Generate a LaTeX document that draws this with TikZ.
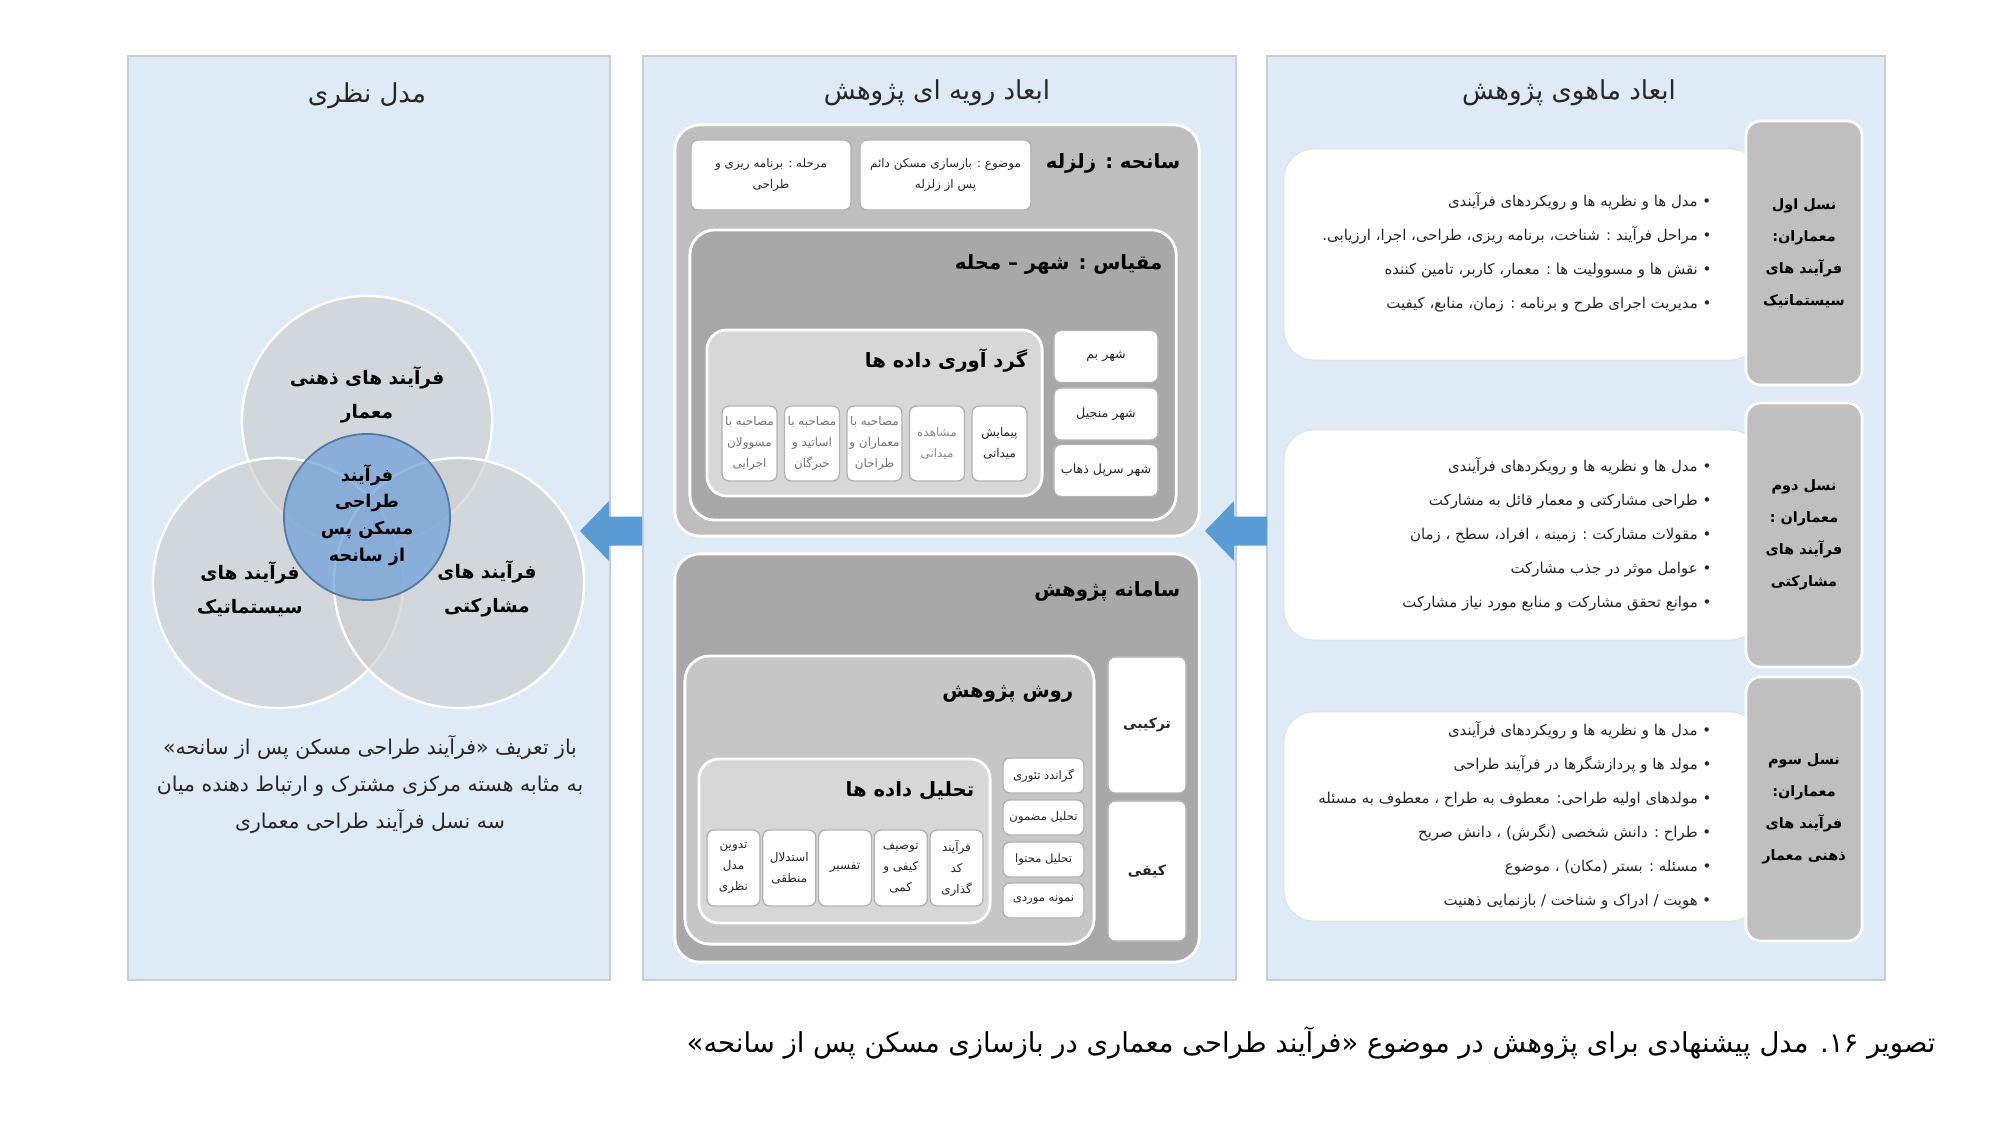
\documentclass[tikz,border=0pt]{standalone}
\usepackage{fontspec}
\usepackage{xcolor}
\usepackage{tikz}
\usetikzlibrary{shapes,arrows.meta,positioning,calc}
\newfontfamily\fafont[Script=Arabic]{DejaVu Sans}
\TeXXeTstate=1
\newcommand{\fa}[1]{\beginR #1\endR}

\definecolor{panelbg}{RGB}{222,235,247}
\definecolor{panelline}{RGB}{200,206,214}
\definecolor{arrowblue}{RGB}{91,155,213}
\definecolor{trayLight}{RGB}{190,190,190}
\definecolor{trayDark}{RGB}{168,168,168}
\definecolor{trayMid}{RGB}{198,198,198}
\definecolor{trayPale}{RGB}{215,215,215}
\definecolor{genGray}{RGB}{191,191,191}
\definecolor{vennGray}{RGB}{205,205,205}
\definecolor{vennBlue}{RGB}{110,160,218}
\definecolor{inkGray}{RGB}{38,38,38}

\begin{document}
\begin{tikzpicture}[x=0.01cm, y=-0.01cm,
    panel/.style={rectangle, fill=panelbg, draw=panelline, line width=0.5pt, inner sep=0pt},
    tray/.style={rectangle, rounded corners=0.25cm, draw=white, line width=0.8pt, inner sep=0pt},
    card/.style={rectangle, rounded corners=0.07cm, fill=white, draw=gray!60, line width=0.4pt,
        inner sep=0.5pt, align=center, text=inkGray, font=\fafont\fontsize{3.4}{6}\selectfont},
    sheet/.style={rectangle, rounded corners=0.3cm, fill=white, draw=panelline!60, line width=0.3pt, inner sep=0pt},
    gen/.style={rectangle, rounded corners=0.15cm, fill=genGray, draw=white, line width=0.8pt,
        inner sep=0pt, align=center, font=\fafont\bfseries\fontsize{4.1}{9.1}\selectfont},
    venn/.style={circle, minimum size=2.5cm, fill=vennGray, fill opacity=0.65, draw=white, line width=0.7pt},
    core/.style={circle, minimum size=1.66cm, fill=vennBlue, fill opacity=0.72, draw=vennBlue!75!black, line width=0.5pt},
    ttl/.style={inner sep=0pt, text=inkGray, font=\fafont\fontsize{7.4}{9}\selectfont},
    hdr/.style={inner sep=0pt, anchor=east, font=\fafont\bfseries\fontsize{5.6}{7}\selectfont},
    vtxt/.style={inner sep=0pt, align=center, font=\fafont\bfseries\fontsize{5.3}{9.8}\selectfont},
    blist/.style={inner sep=0pt, align=right, anchor=east, text=inkGray, font=\fafont\fontsize{4.25}{9.7}\selectfont},
]
\useasboundingbox (0,0) rectangle (2000,1124);
\fill[white] (0,0) rectangle (2000,1124);

% three panels
\node[panel, minimum width=4.82cm, minimum height=9.24cm] (pTheory) at (369,518) {};
\node[panel, minimum width=5.93cm, minimum height=9.24cm] (pProc) at (939.5,518) {};
\node[panel, minimum width=6.18cm, minimum height=9.24cm] (pSubst) at (1576,518) {};

\node[ttl] (tTheory) at (367,96) {\fa{مدل نظری}};
\node[ttl] (tProc) at (937,93) {\fa{ابعاد رویه ای پژوهش}};
\node[ttl] (tSubst) at (1569,93) {\fa{ابعاد ماهوی پژوهش}};

% venn
\node[venn] (cMind) at (367,421) {};
\node[venn] (cSys) at (278,583) {};
\node[venn] (cPart) at (459,583) {};
\node[core] (cCore) at (367,517) {};
\node[vtxt] (lMind) at (367,395) {\fa{فرآیند های ذهنی}\\\fa{معمار}};
\node[vtxt] (lSys) at (250,589) {\fa{فرآیند های}\\\fa{سیستماتیک}};
\node[vtxt] (lPart) at (487,589) {\fa{فرآیند های}\\\fa{مشارکتی}};
\node[vtxt, font=\fafont\bfseries\fontsize{5}{7.6}\selectfont] (lCore) at (367,515)
    {\fa{فرآیند}\\\fa{طراحی}\\\fa{مسکن پس}\\\fa{از سانحه}};
\node[inner sep=0pt, align=center, text=inkGray, font=\fafont\fontsize{5.8}{10.5}\selectfont] (defn) at (370,784)
    {\fa{باز تعریف «فرآیند طراحی مسکن پس از سانحه»}\\
     \fa{به مثابه هسته مرکزی مشترک و ارتباط دهنده میان}\\
     \fa{سه نسل فرآیند طراحی معماری}};

% procedural dimensions
\node[tray, fill=trayLight, minimum width=5.24cm, minimum height=4.11cm] (sDisaster) at (937,330.5) {};
\node[hdr] (hDisaster) at (1181,163) {\fa{سانحه : زلزله}};
\node[card, minimum width=1.71cm, minimum height=0.70cm] (kTopic) at (945.5,175)
    {\fa{موضوع : بازسازی مسکن دائم}\\\fa{پس از زلزله}};
\node[card, minimum width=1.60cm, minimum height=0.70cm] (kStage) at (771,175)
    {\fa{مرحله : برنامه ریزی و}\\\fa{طراحی}};
\node[tray, fill=trayDark, minimum width=4.86cm, minimum height=2.90cm] (sScale) at (933,375) {};
\node[hdr] (hScale) at (1163,264) {\fa{مقیاس : شهر – محله}};
\node[tray, fill=trayPale, rounded corners=0.2cm, minimum width=3.35cm, minimum height=1.66cm] (sCollect) at (874.5,413) {};
\node[hdr] (hCollect) at (1028,360) {\fa{گرد آوری داده ها}};
\foreach \cx/\ink/\lbl [count=\i] in {
    999.5/inkGray/{\fa{پیمایش}\\\fa{میدانی}},
    937/black!45/{\fa{مشاهده}\\\fa{میدانی}},
    874.5/black!55/{\fa{مصاحبه با}\\\fa{معماران و}\\\fa{طراحان}},
    812/black!55/{\fa{مصاحبه با}\\\fa{اساتید و}\\\fa{خبرگان}},
    749.5/black!55/{\fa{مصاحبه با}\\\fa{مسوولان}\\\fa{اجرایی}}}
  \node[card, text=\ink, minimum width=0.55cm, minimum height=0.75cm] (kCol\i) at (\cx,443.5) {\lbl};
\foreach \cy/\lbl [count=\i] in {356.5/{شهر بم}, 414/{شهر منجیل}, 470.5/{شهر سرپل ذهاب}}
  \node[card, minimum width=1.04cm, minimum height=0.52cm, font=\fafont\fontsize{3.6}{5}\selectfont] (kCity\i) at (1106,\cy) {\fa{\lbl}};

\node[tray, fill=trayDark, minimum width=5.24cm, minimum height=4.08cm] (sSystem) at (937,758) {};
\node[hdr] (hSystem) at (1181,591) {\fa{سامانه پژوهش}};
\node[tray, fill=trayMid, minimum width=4.09cm, minimum height=2.88cm] (sMethod) at (889.5,800) {};
\node[hdr] (hMethod) at (1074,694) {\fa{روش پژوهش}};
\node[card, minimum width=0.78cm, minimum height=1.36cm, font=\fafont\bfseries\fontsize{4}{5}\selectfont] (kMixed) at (1147,725) {\fa{ترکیبی}};
\node[card, minimum width=0.78cm, minimum height=1.40cm, font=\fafont\bfseries\fontsize{4}{5}\selectfont] (kQual) at (1147,871) {\fa{کیفی}};
\node[tray, fill=trayPale, rounded corners=0.2cm, minimum width=2.91cm, minimum height=1.64cm] (sAnalysis) at (844.5,841) {};
\node[hdr] (hAnalysis) at (975,791) {\fa{تحلیل داده ها}};
\foreach \cx/\lbl [count=\i] in {
    956.5/{\fa{فرآیند}\\\fa{کد}\\\fa{گذاری}},
    900.75/{\fa{توصیف}\\\fa{کیفی و}\\\fa{کمی}},
    845/{\fa{تفسیر}},
    789.25/{\fa{استدلال}\\\fa{منطقی}},
    733.5/{\fa{تدوین}\\\fa{مدل}\\\fa{نظری}}}
  \node[card, minimum width=0.53cm, minimum height=0.76cm, font=\fafont\fontsize{3.4}{6}\selectfont] (kAna\i) at (\cx,868) {\lbl};
\foreach \cy/\lbl [count=\i] in {775.5/{گراندد تئوری}, 817.5/{تحلیل مضمون}, 859.5/{تحلیل محتوا}, 900.5/{نمونه موردی}}
  \node[card, minimum width=0.81cm, minimum height=0.35cm, font=\fafont\fontsize{3.3}{5}\selectfont] (kMeth\i) at (1043.5,\cy) {\fa{\lbl}};

% substantive dimensions
\node[sheet, minimum width=4.76cm, minimum height=2.11cm] (gOne) at (1522,254.5) {};
\node[gen, minimum width=1.16cm, minimum height=2.64cm] (nOne) at (1804,253)
    {\fa{نسل اول}\\\fa{معماران:}\\\fa{فرآیند های}\\\fa{سیستماتیک}};
\node[blist] (bOne) at (1712,252)
    {\fa{• مدل ها و نظریه ها و رویکردهای فرآیندی}\\
     \fa{• مراحل فرآیند : شناخت، برنامه ریزی، طراحی، اجرا، ارزیابی.}\\
     \fa{• نقش ها و مسوولیت ها : معمار، کاربر، تامین کننده}\\
     \fa{• مدیریت اجرای طرح و برنامه : زمان، منابع، کیفیت}};

\node[sheet, minimum width=4.76cm, minimum height=2.10cm] (gTwo) at (1522,535) {};
\node[gen, minimum width=1.16cm, minimum height=2.64cm] (nTwo) at (1804,535)
    {\fa{نسل دوم}\\\fa{معماران :}\\\fa{فرآیند های}\\\fa{مشارکتی}};
\node[blist] (bTwo) at (1712,534.5)
    {\fa{• مدل ها و نظریه ها و رویکردهای فرآیندی}\\
     \fa{• طراحی مشارکتی و معمار قائل به مشارکت}\\
     \fa{• مقولات مشارکت : زمینه ، افراد، سطح ، زمان}\\
     \fa{• عوامل موثر در جذب مشارکت}\\
     \fa{• موانع تحقق مشارکت و منابع مورد نیاز مشارکت}};

\node[sheet, minimum width=4.76cm, minimum height=2.09cm] (gThree) at (1522,816.5) {};
\node[gen, minimum width=1.16cm, minimum height=2.64cm] (nThree) at (1804,809)
    {\fa{نسل سوم}\\\fa{معماران:}\\\fa{فرآیند های}\\\fa{ذهنی معمار}};
\node[blist] (bThree) at (1712,815.5)
    {\fa{• مدل ها و نظریه ها و رویکردهای فرآیندی}\\
     \fa{• مولد ها و پردازشگرها در فرآیند طراحی}\\
     \fa{• مولدهای اولیه طراحی: معطوف به طراح ، معطوف به مسئله}\\
     \fa{• طراح : دانش شخصی (نگرش) ، دانش صریح}\\
     \fa{• مسئله : بستر (مکان) ، موضوع}\\
     \fa{• هویت / ادراک و شناخت / بازنمایی ذهنیت}};

% block arrows between panels
\coordinate (aTailA) at (642,531);
\coordinate (aTailB) at (1267,531);
\foreach \t in {aTailA, aTailB}
  \fill[arrowblue] (\t) ++(0,-14.5) -- ++(-33,0) -- ++(0,-15.5) -- ++(-29,30)
      -- ++(29,30) -- ++(0,-15.5) -- ++(33,0) -- cycle;

% caption
\node[inner sep=0pt, anchor=east, text=black, font=\fafont\fontsize{7.8}{9}\selectfont] (caption) at (1936,1043)
    {\fa{تصویر ۱۶. مدل پیشنهادی برای پژوهش در موضوع «فرآیند طراحی معماری در بازسازی مسکن پس از سانحه»}};
\end{tikzpicture}
\end{document}
